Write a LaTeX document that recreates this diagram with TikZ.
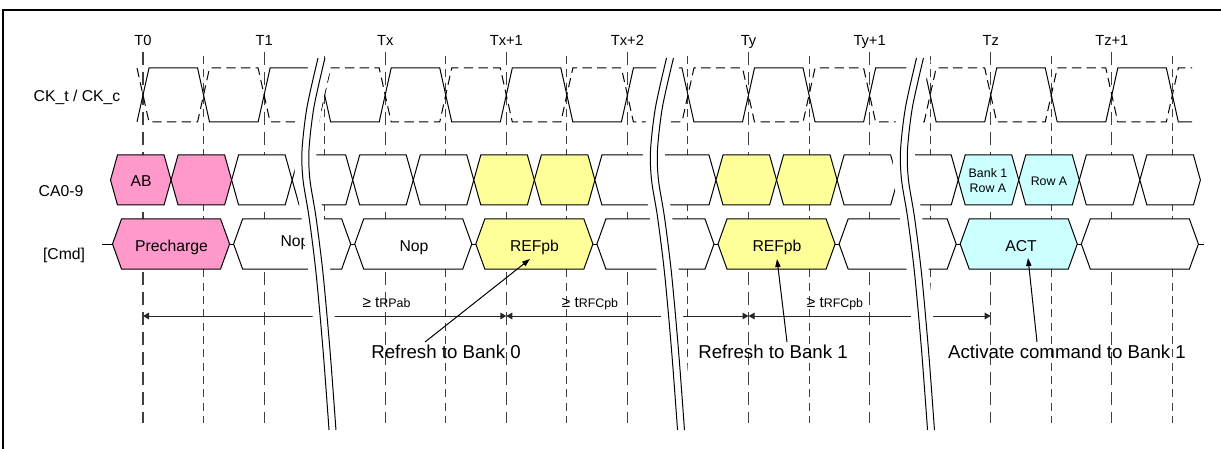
\documentclass[tikz,border=0pt]{standalone}
\usepackage{fontspec}
\setmainfont{Liberation Sans}
\usetikzlibrary{arrows.meta}
\definecolor{cpink}{HTML}{FF99CC}
\definecolor{cyel}{HTML}{FFFF99}
\definecolor{ccyan}{HTML}{CCFFFF}
\newcommand{\drawbreak}[1]{%
  \begin{scope}[shift={(#1,0)}]
    \draw[white,line width=16.5pt] plot[smooth] coordinates {(0,58) (-11,107) (-16,150) (-15,180) (-9,217) (-2,273) (5,350) (11,430)};
    \draw[brkline,xshift=-2.6pt] plot[smooth] coordinates {(0,58) (-11,107) (-16,150) (-15,180) (-9,217) (-2,273) (5,350) (11,430)};
    \draw[brkline,xshift=2.6pt] plot[smooth] coordinates {(0,58) (-11,107) (-16,150) (-15,180) (-9,217) (-2,273) (5,350) (11,430)};
  \end{scope}}
\begin{document}
\begin{tikzpicture}[x=0.75pt,y=-0.75pt,
  tline/.style={draw=black!75,line width=0.8pt,dash pattern=on 10pt off 5pt},
  hline/.style={draw=black!75,line width=0.8pt,dash pattern=on 6pt off 4pt},
  ckt/.style={draw=black,line width=0.75pt},
  ckc/.style={draw=black,line width=0.75pt,dash pattern=on 7pt off 4pt},
  busshape/.style={draw=black,line width=0.75pt},
  brkline/.style={draw=black,line width=0.75pt},
  rowlbl/.style={font=\fontsize{11.8}{14}\selectfont,inner sep=0pt,anchor=base},
  tlbl/.style={font=\fontsize{11}{13}\selectfont,inner sep=0pt,anchor=base},
  cmdlbl/.style={font=\fontsize{11.8}{14}\selectfont,inner sep=0pt,anchor=base},
  smlbl/.style={font=\fontsize{9.3}{10.5}\selectfont,inner sep=0pt,anchor=base,align=center},
  annlbl/.style={font=\fontsize{14}{16}\selectfont,inner sep=0pt,anchor=base},
  timlbl/.style={font=\fontsize{11.5}{13}\selectfont,inner sep=0pt,anchor=base},
  tarrow/.style={draw=black!85,line width=0.75pt,{Triangle[length=4.5pt,width=5pt]}-{Triangle[length=4.5pt,width=5pt]}},
  ptr/.style={draw=black,line width=0.75pt,-{Triangle[length=6pt,width=4pt]}}]
\useasboundingbox (0,0) rectangle (1221,449);

% vertical reference lines
\foreach \k in {0,...,8}{
  \draw[tline] ({143+121.1*\k},52) -- ({143+121.1*\k},423);
  \draw[hline] ({203.55+121.1*\k},56) -- ({203.55+121.1*\k},423);
}

% clock
\draw[ckt] (137,122) \foreach \k in {0,...,8}{ -- ({143+121.1*\k-6},122) -- ({143+121.1*\k+6},68) -- ({203.55+121.1*\k-6},68) -- ({203.55+121.1*\k+6},122)} -- (1192,122);
\draw[ckc] (137,68) \foreach \k in {0,...,8}{ -- ({143+121.1*\k-6},68) -- ({143+121.1*\k+6},122) -- ({203.55+121.1*\k-6},122) -- ({203.55+121.1*\k+6},68)} -- (1192,68);

% CA bus
\foreach \k/\col in {0/cpink,1/cpink,2/white,3/white,4/white,5/white,6/cyel,7/cyel,8/white,9/white,10/cyel,11/cyel,12/white,13/white,14/ccyan,15/ccyan,16/white,17/white}{
  \pgfmathsetmacro\kxa{110.5+60.55*\k}
  \pgfmathsetmacro\kxb{\kxa+60.55}
  \filldraw[busshape,fill=\col] (\kxa,180) -- ({\kxa+7},155) -- ({\kxb-7},155) -- (\kxb,180) -- ({\kxb-7},205) -- ({\kxa+7},205) -- cycle;
}

% Cmd bus
\foreach \i/\col in {0/cpink,1/white,2/white,3/cyel,4/white,5/cyel,6/white,7/ccyan,8/white}{
  \pgfmathsetmacro\kxa{112.5+121.1*\i}
  \pgfmathsetmacro\kxb{\kxa+117.1}
  \filldraw[busshape,fill=\col] (\kxa,244) -- ({\kxa+9},219) -- ({\kxb-9},219) -- (\kxb,244) -- ({\kxb-9},269) -- ({\kxa+9},269) -- cycle;
}
\foreach \i in {1,...,8}{
  \draw[busshape] ({110.5+121.1*\i-2},244) -- ({110.5+121.1*\i+2},244);
}
\coordinate (cmdin) at (102,244);
\coordinate (cmdfirst) at (112.5,244);
\coordinate (cmdlast) at (1198.4,244);
\coordinate (cmdout) at (1204,244);
\draw[busshape] (cmdin) -- (cmdfirst);
\draw[busshape] (cmdlast) -- (cmdout);

% texts in shapes
\node[cmdlbl] (ab) at (141,187) {AB};
\node[smlbl] (bank1) at (988,178) {Bank 1};
\node[smlbl] (rowa1) at (988,193) {Row A};
\node[smlbl] (rowa2) at (1049,186) {Row A};
\node[cmdlbl] (pre) at (171.5,251) {Precharge};
\node[cmdlbl] (nop1) at (295,247) {Nop};
\node[cmdlbl] (nop2) at (414,251) {Nop};
\node[cmdlbl] (ref0s) at (534.5,251) {REFpb};
\node[cmdlbl] (ref1s) at (777,251) {REFpb};
\node[cmdlbl] (act) at (1021,251) {ACT};

% timing arrows
\coordinate (a0) at (143,316);
\coordinate (a1) at (506.3,316);
\coordinate (a2) at (748.5,316);
\coordinate (a3) at (990.7,316);
\draw[tarrow] (a0) -- (a1);
\draw[tarrow] (a1) -- (a2);
\draw[tarrow] (a2) -- (a3);
\node[timlbl] (trp) at (386.5,307) {≥ t{\fontsize{9.3}{11}\selectfont RPab}};
\node[timlbl] (trfc1) at (590,307) {≥ t{\fontsize{9.3}{11}\selectfont RFCpb}};
\node[timlbl] (trfc2) at (835,307) {≥ t{\fontsize{9.3}{11}\selectfont RFCpb}};

% annotations
\node[annlbl] (n0) at (446,358) {Refresh to Bank 0};
\node[annlbl] (n1) at (773,358) {Refresh to Bank 1};
\node[annlbl] (n2) at (1067,358) {Activate command to Bank 1};
\coordinate (p0s) at (425,342);
\coordinate (p0e) at (530,259);
\coordinate (p1s) at (787,342);
\coordinate (p1e) at (777,259);
\coordinate (p2s) at (1037,342);
\coordinate (p2e) at (1028,258);
\draw[ptr] (p0s) -- (p0e);
\draw[ptr] (p1s) -- (p1e);
\draw[ptr] (p2s) -- (p2e);

% breaks
\drawbreak{321.5}
\drawbreak{670}
\drawbreak{920}

% clock/T labels
\foreach \k/\t in {0/T0,1/T1,2/Tx,3/Tx+1,4/Tx+2,5/Ty,6/Ty+1,7/Tz,8/Tz+1}{
  \node[tlbl] (t\k) at ({143+121.1*\k},46) {\t};
}

% row labels
\node[rowlbl] (ck) at (77,102) {CK\_t / CK\_c};
\node[rowlbl] (ca) at (61,197) {CA0-9};
\node[rowlbl] (cmd) at (64,259) {[Cmd]};

% frame
\coordinate (fl) at (3,449);
\coordinate (fc) at (3,10);
\coordinate (fr) at (1221,10);
\draw[line width=1.5pt] (fl) -- (fc) -- (fr);
\end{tikzpicture}
\end{document}
